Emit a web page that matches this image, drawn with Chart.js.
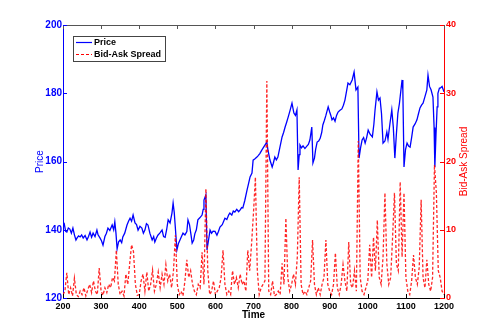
<!DOCTYPE html>
<html>
<head>
<meta charset="utf-8">
<script src="https://cdn.jsdelivr.net/npm/chart.js@4/dist/chart.umd.min.js"></script>
<style>
  html, body { margin: 0; padding: 0; background: #fff; }
  #wrap { width: 491px; height: 336px; }
</style>
</head>
<body>
<div id="wrap"><canvas id="priceSpread" width="491" height="336"></canvas></div>
<script>
// price series (time, price)
const priceTime = [200, 203, 207, 210, 214, 218, 222, 226, 230, 234, 237, 241, 245, 249, 253, 258, 263, 267, 271, 275,
    279, 284, 289, 292, 297, 301, 305, 310, 314, 318, 323, 329, 333, 336, 339, 342, 346, 350, 354, 357,
    362, 368, 372, 376, 380, 384, 389, 393, 397, 402, 407, 411, 415, 419, 423, 428, 434, 438, 441, 445,
    449, 454, 460, 464, 468, 472, 476, 481, 486, 489, 492, 494, 499, 503, 507, 511, 515, 520, 525, 528,
    532, 536, 539, 543, 546, 550, 554, 559, 565, 568, 570, 575, 578, 582, 586, 590, 594, 599, 604, 608,
    612, 618, 625, 630, 635, 638, 643, 647, 651, 656, 661, 665, 669, 672, 677, 683, 687, 691, 696, 699,
    704, 709, 713, 717, 721, 725, 730, 735, 738, 743, 749, 752, 756, 760, 764, 769, 775, 779, 783, 787,
    791, 796, 801, 806, 810, 814, 817, 820, 822, 826, 830, 835, 840, 844, 848, 853, 856, 860, 863, 867,
    871, 875, 879, 882, 886, 890, 896, 900, 903, 906, 910, 914, 918, 922, 927, 932, 936, 940, 944, 948,
    953, 959, 964, 969, 974, 977, 981, 985, 989, 993, 997, 1001, 1006, 1012, 1016, 1019, 1024, 1028, 1032, 1036,
    1040, 1045, 1050, 1053, 1058, 1063, 1067, 1071, 1075, 1079, 1083, 1087, 1090, 1092, 1095, 1099, 1103, 1107, 1111, 1115,
    1119, 1124, 1129, 1133, 1137, 1141, 1145, 1150, 1155, 1158, 1162, 1166, 1171, 1174, 1176, 1179, 1182, 1184, 1188, 1190,
    1195, 1200];
const priceValue = [142, 141.9, 139.5, 139.3, 140.5, 140.2, 139, 140.5, 138.5, 137, 137.6, 138.2, 137.9, 138.5, 137.6, 138.3, 137, 138, 139.3, 137.8,
    139, 138, 139.9, 138.5, 137.6, 136.8, 135.5, 138, 139, 140.5, 139.8, 141.4, 140, 142.3, 139, 134.4, 136.5, 137, 136.2, 137.9,
    139, 141.4, 142.5, 143.4, 142.5, 144.3, 142, 141.5, 139.9, 141, 140.5, 139, 139.9, 141.8, 141.4, 139, 137, 138, 136.4, 137.5,
    138.4, 139, 139.9, 138, 137.8, 140, 142.9, 142, 144.9, 147.8, 145, 142, 134.1, 136, 137, 138, 139, 138.5, 139.5, 142.9,
    141.5, 138.5, 136.1, 137, 138.8, 140, 142.9, 143.5, 144.3, 146, 148.7, 150.2, 134.1, 137, 139.9, 139, 139.6, 139.5, 138.4, 139.5,
    140.8, 141.5, 143.4, 143, 144.4, 144.9, 144.3, 145.5, 145.2, 146, 145.3, 145.8, 146.5, 146.4, 148.5, 151.6, 153.5, 155.5, 156.6, 160.4,
    160.8, 161.3, 161.8, 162.4, 163.2, 163.9, 164.8, 165.7, 163.3, 160.5, 158.4, 159.5, 161.3, 160.5, 161.3, 164, 167.2, 168.5, 170.1, 171.5,
    173, 175, 177.1, 174.2, 173.5, 175.1, 157.5, 162, 164.8, 164, 164.6, 163.8, 164.5, 165, 166.3, 170.1, 159.6, 161, 163.5, 165.7,
    166, 166.8, 168.5, 170.7, 172, 173.5, 176, 174.5, 173.5, 172.2, 172.8, 171.8, 173.5, 174.5, 175, 175.4, 176.5, 178, 180.5, 183,
    182.5, 183.9, 186.2, 181, 181.8, 161, 164, 166.3, 167, 165.4, 167, 169.2, 168, 167.2, 171, 175.1, 180.4, 178, 178.6, 174,
    165.4, 166, 168.6, 166.5, 171, 175.1, 170, 161, 168, 174.2, 177, 181, 183.9, 181, 158.4, 163.5, 165.4, 164.5, 164.2, 167,
    170.1, 171, 172.2, 174, 175.7, 176.5, 177.1, 179, 181, 185.3, 182, 181, 178.9, 170, 158.4, 168, 176, 180, 181.5, 181.5,
    182, 180.4];

// bid-ask spread, one value every 5 time units from 200 to 1200
const spreadStart = 200;
const spreadStep = 5;
const spreadValue = [0.5, 1, 3.7, 0.5, 1.5, 0.3, 2.9, 0.5, 0.2, 1,
    0.5, 1.5, 0.3, 1.2, 2, 0.8, 2.5, 1, 0.5, 4.4,
    1, 0.4, 1.5, 0.8, 2, 1.5, 3, 2.5, 7, 2,
    0.5, 1, 0.3, 3.5, 2, 5, 7.8, 6.8, 2, 0.4,
    0.5, 2.5, 3.5, 1, 3.8, 1, 2, 4.1, 1, 2,
    3.8, 1.5, 3.5, 2, 4.9, 2.5, 3.5, 1.5, 4, 9.2,
    2, 0.5, 1, 0.3, 2.5, 5.6, 3, 4, 2, 1,
    0.5, 2, 1.5, 6.7, 2, 16, 4, 0.5, 1, 2.5,
    0.5, 1, 1.5, 3, 7, 2, 0.5, 1, 0.5, 4,
    2, 3, 1.5, 3.5, 2, 2.5, 1, 7, 4, 8,
    12.5, 17.7, 4, 0.5, 1.5, 2, 2.5, 31.8, 1, 0.5,
    2.5, 0.3, 0.5, 1, 0.5, 5.1, 2, 11.7, 3, 1,
    2, 3.5, 2, 6, 17.7, 2, 0.5, 1, 0.5, 1.5,
    2.5, 8.5, 2, 0.5, 1.5, 0.5, 2, 3, 8.5, 2,
    1, 0.5, 2, 6.6, 1.5, 0.5, 2, 4.9, 2.5, 1,
    8.2, 2, 1.5, 4, 1, 23, 3, 1, 0.5, 1.5,
    2.5, 7.8, 3, 8.9, 4, 11.4, 3, 2, 6, 15.4,
    5, 2, 3, 8.8, 15.4, 5, 4, 17, 6, 15.4,
    3, 1, 0.5, 2.5, 6.3, 3, 2, 4.5, 14.4, 3,
    1.5, 5.6, 2, 1, 3, 19.5, 15.4, 4, 3, 1,
    0.5];

const timeTicks = [200, 300, 400, 500, 600, 700, 800, 900, 1000, 1100, 1200];
const priceTicks = [120, 140, 160, 180, 200];
const spreadTicks = [0, 10, 20, 30, 40];

const BLUE = '#0000ff';
const RED = '#ff0000';
const FONT = 'Liberation Sans, Arial, Helvetica, sans-serif';

const priceData = priceTime.map((t, i) => ({x: t, y: priceValue[i]}));
const spreadData = spreadValue.map((v, i) => ({x: spreadStart + i * spreadStep, y: v}));

// MATLAB style: ticks inside the box, box on, legend and right label drawn here
const boxPlugin = {
    id: 'matlabBox',
    afterDraw(chart) {
        const ctx = chart.ctx;
        const area = chart.chartArea;
        const xs = chart.scales.x;
        const yl = chart.scales.y;
        const yr = chart.scales.y1;
        const tl = 4;

        ctx.save();
        ctx.lineWidth = 1;

        // top border
        ctx.strokeStyle = '#555';
        ctx.beginPath();
        ctx.moveTo(area.left, area.top + 0.5);
        ctx.lineTo(area.right, area.top + 0.5);
        ctx.stroke();

        // x ticks, bottom and top
        timeTicks.forEach(t => {
            const px = Math.round(xs.getPixelForValue(t)) + 0.5;
            ctx.strokeStyle = '#000';
            ctx.beginPath();
            ctx.moveTo(px, area.bottom);
            ctx.lineTo(px, area.bottom - tl);
            ctx.stroke();
            ctx.strokeStyle = '#555';
            ctx.beginPath();
            ctx.moveTo(px, area.top);
            ctx.lineTo(px, area.top + tl);
            ctx.stroke();
        });

        // left ticks
        ctx.strokeStyle = BLUE;
        priceTicks.forEach(v => {
            const py = Math.round(yl.getPixelForValue(v)) + 0.5;
            ctx.beginPath();
            ctx.moveTo(area.left, py);
            ctx.lineTo(area.left + tl, py);
            ctx.stroke();
        });

        // right ticks
        ctx.strokeStyle = RED;
        spreadTicks.forEach(v => {
            const py = Math.round(yr.getPixelForValue(v)) + 0.5;
            ctx.beginPath();
            ctx.moveTo(area.right, py);
            ctx.lineTo(area.right - tl, py);
            ctx.stroke();
        });

        // right axis title, reading bottom to top
        ctx.fillStyle = RED;
        ctx.font = '10px ' + FONT;
        ctx.textAlign = 'center';
        ctx.textBaseline = 'middle';
        ctx.translate(area.right + 20, (area.top + area.bottom) / 2);
        ctx.rotate(-Math.PI / 2);
        ctx.fillText('Bid-Ask Spread', 0, 0);
        ctx.restore();

        // legend box
        ctx.save();
        const lx = area.left + 10;
        const ly = area.top + 11;
        const lw = 92;
        const lh = 25;
        ctx.fillStyle = '#fff';
        ctx.fillRect(lx, ly, lw, lh);
        ctx.strokeStyle = '#444';
        ctx.lineWidth = 1;
        ctx.strokeRect(lx + 0.5, ly + 0.5, lw, lh);

        ctx.font = 'bold 9px ' + FONT;
        ctx.fillStyle = '#000';
        ctx.textAlign = 'left';
        ctx.textBaseline = 'middle';

        ctx.strokeStyle = BLUE;
        ctx.lineWidth = 1.2;
        ctx.beginPath();
        ctx.moveTo(lx + 3, ly + 6.5);
        ctx.lineTo(lx + 19, ly + 6.5);
        ctx.stroke();
        ctx.fillText('Price', lx + 21, ly + 7);

        ctx.strokeStyle = RED;
        ctx.lineWidth = 1;
        ctx.setLineDash([3, 2]);
        ctx.beginPath();
        ctx.moveTo(lx + 3, ly + 18.5);
        ctx.lineTo(lx + 19, ly + 18.5);
        ctx.stroke();
        ctx.setLineDash([]);
        ctx.fillText('Bid-Ask Spread', lx + 21, ly + 18.5);
        ctx.restore();
    }
};

new Chart(document.getElementById('priceSpread'), {
    type: 'line',
    data: {
        datasets: [
            {
                label: 'Price',
                data: priceData,
                yAxisID: 'y',
                borderColor: BLUE,
                borderWidth: 1.3,
                pointRadius: 0,
                tension: 0,
                order: 2
            },
            {
                label: 'Bid-Ask Spread',
                data: spreadData,
                yAxisID: 'y1',
                borderColor: 'rgba(255, 0, 0, 0.85)',
                borderWidth: 1.3,
                borderDash: [3, 2],
                pointRadius: 0,
                tension: 0,
                order: 1
            }
        ]
    },
    options: {
        responsive: false,
        animation: false,
        devicePixelRatio: 1,
        layout: { padding: { top: 25, left: 0, right: 0, bottom: 0 } },
        plugins: {
            legend: { display: false },
            tooltip: { enabled: false }
        },
        scales: {
            x: {
                type: 'linear',
                min: 200,
                max: 1200,
                afterBuildTicks: scale => { scale.ticks = timeTicks.map(v => ({value: v})); },
                afterFit: scale => { scale.height = 38; },
                grid: { display: false, drawTicks: false },
                border: { display: true, color: '#000', width: 1 },
                ticks: {
                    color: '#000',
                    padding: 3,
                    maxRotation: 0,
                    callback: v => String(v),
                    font: { family: FONT, size: 9, weight: 'bold' }
                },
                title: {
                    display: true,
                    text: 'Time',
                    color: '#000',
                    padding: { top: 0, bottom: 15 },
                    font: { family: FONT, size: 10, weight: 'bold' }
                }
            },
            y: {
                position: 'left',
                min: 120,
                max: 200,
                afterBuildTicks: scale => { scale.ticks = priceTicks.map(v => ({value: v})); },
                afterFit: scale => { scale.width = 63; },
                grid: { display: false, drawTicks: false },
                border: { display: true, color: BLUE, width: 1 },
                ticks: {
                    color: BLUE,
                    padding: 1,
                    callback: v => String(v),
                    font: { family: FONT, size: 10, weight: 'bold' }
                },
                title: {
                    display: true,
                    text: 'Price',
                    color: BLUE,
                    padding: { top: 34, bottom: 0 },
                    font: { family: FONT, size: 10 }
                }
            },
            y1: {
                position: 'right',
                min: 0,
                max: 40,
                afterBuildTicks: scale => { scale.ticks = spreadTicks.map(v => ({value: v})); },
                afterFit: scale => { scale.width = 47; },
                grid: { display: false, drawTicks: false },
                border: { display: true, color: RED, width: 1 },
                ticks: {
                    color: RED,
                    padding: 2,
                    callback: v => String(v),
                    font: { family: FONT, size: 9, weight: 'bold' }
                }
            }
        }
    },
    plugins: [boxPlugin]
});
</script>
</body>
</html>
